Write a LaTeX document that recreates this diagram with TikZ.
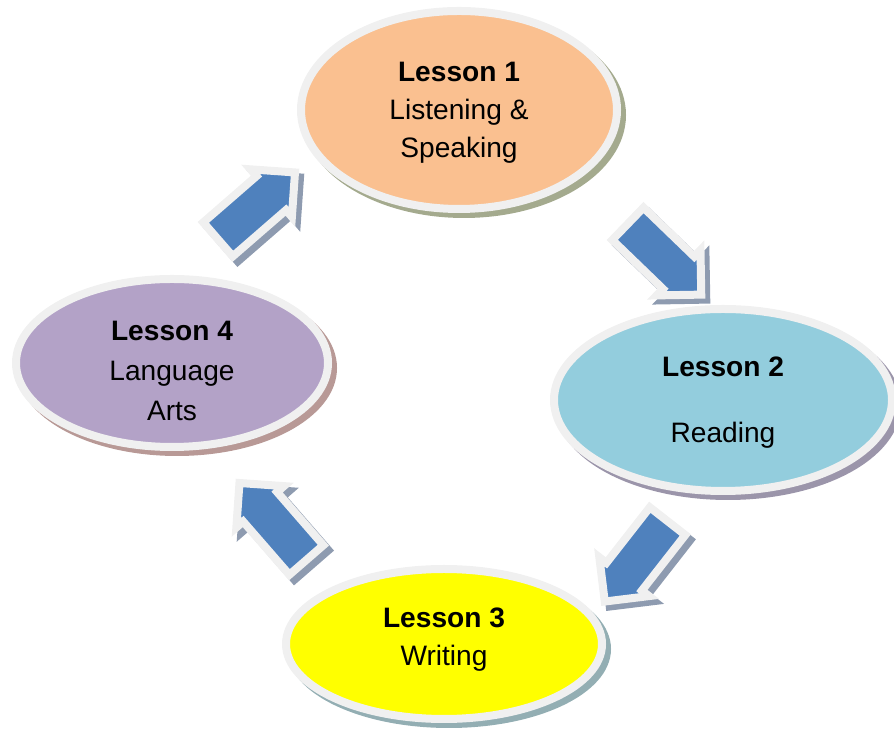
\documentclass[tikz,border=0pt]{standalone}
\usepackage{fontspec}
\setmainfont{Liberation Sans}
\usetikzlibrary{shapes.geometric,
  shapes.arrows,
  positioning
}
\definecolor{lsorange}{HTML}{FAC090}
\definecolor{lsblue}{HTML}{93CDDD}
\definecolor{lsyellow}{HTML}{FFFF00}
\definecolor{lspurple}{HTML}{B3A2C7}
\definecolor{lsarrow}{HTML}{4F81BD}
\definecolor{lsrim}{HTML}{F0F0F0}
\definecolor{shorange}{HTML}{A4AA8E}
\definecolor{shblue}{HTML}{9B95AA}
\definecolor{shyellow}{HTML}{93AEB3}
\definecolor{shpurple}{HTML}{B89996}
\definecolor{sharrow}{HTML}{8E9BB0}

\begin{document}
\begin{tikzpicture}[
  lesson/.style 2 args={ellipse, draw=lsrim, line width=0.16cm, fill=#1,
    inner sep=0pt, align=center, font=\fontsize{16}{21.6}\selectfont,
    preaction={draw=#2, fill=#2, line width=0.16cm,
      transform canvas={xshift=0.1cm, yshift=-0.1cm}}},
  blockarrow/.style={single arrow, draw=lsrim, line width=0.16cm, fill=lsarrow,
    line join=miter, inner xsep=0pt, inner ysep=0.37cm, anchor=tail,
    minimum height=2.04cm, single arrow head extend=0.18cm,
    preaction={draw=sharrow, fill=sharrow, line width=0.16cm,
      transform canvas={xshift=0.1cm, yshift=-0.1cm}}}
]
  \useasboundingbox (0, 0) rectangle (17.88, 14.62);

  % the four lessons
  \node[lesson={lsorange}{shorange}, minimum width=6.32cm, minimum height=3.96cm]
  (Lesson1) at (9.18, 12.42)
  {\raisebox{0pt}[\dimexpr\height+0.12cm]{\textbf{Lesson 1}}\\Listening \&\\Speaking};
  \node[lesson={lsblue}{shblue}, minimum width=6.76cm, minimum height=3.64cm]
  (Lesson2) at (14.46, 6.62)
  {\raisebox{0pt}[\dimexpr\height+0.12cm]{\textbf{Lesson 2}}\\[0.56cm]Reading};
  \node[lesson={lsyellow}{shyellow}, minimum width=6.32cm, minimum height=3.0cm]
  (Lesson3) at (8.88, 1.74)
  {\textbf{Lesson 3}\\\raisebox{0pt}[\height][\dimexpr\depth+0.18cm]{Writing}};
  \node[lesson={lspurple}{shpurple}, minimum width=6.24cm, minimum height=3.36cm,
    font=\fontsize{16}{22.7}\selectfont]
  (Lesson4) at (3.44, 7.36)
  {\raisebox{0pt}[\dimexpr\height+0.32cm]{\textbf{Lesson 4}}\\Language\\Arts};

  % arrows round the cycle
  \node[blockarrow, rotate=41] (Arrow41) at (4.30, 9.78) {};
  \node[blockarrow, rotate=-44] (Arrow12) at (12.5, 10.2) {};
  \node[blockarrow, rotate=-128] (Arrow23) at (13.4, 4.26) {};
  \node[blockarrow, rotate=131] (Arrow34) at (6.18, 3.36) {};
\end{tikzpicture}
\end{document}
